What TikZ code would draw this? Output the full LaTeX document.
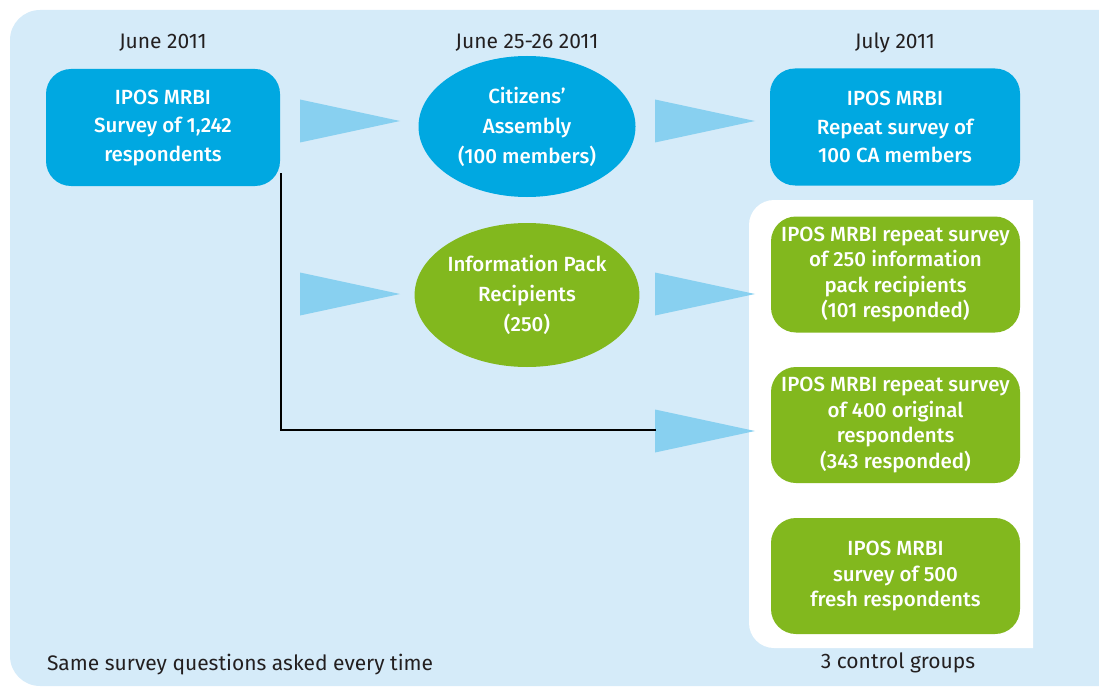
\documentclass[tikz,border=0pt]{standalone}
\usepackage{fontspec}
\setmainfont{Fira Sans}
\newfontfamily\boxfont{Fira Sans}[UprightFont=* Medium]
\usetikzlibrary{shapes.geometric}
\definecolor{bgblue}{HTML}{D5EBF9}
\definecolor{boxblue}{HTML}{00A8E1}
\definecolor{arrowblue}{HTML}{88D0F0}
\definecolor{boxgreen}{HTML}{82B81E}
\definecolor{headtext}{HTML}{231F20}
\tikzset{
  every node/.style={inner sep=0pt, outer sep=0pt},
  boxtext/.style={text=white, align=center, font=\boxfont\fontsize{20.5}{28.5}\selectfont},
  bluebox/.style={boxtext, fill=boxblue, rounded corners=25pt, minimum height=117pt},
  greenbox/.style={boxtext, fill=boxgreen, rounded corners=25pt, minimum width=249pt, minimum height=116pt, font=\boxfont\fontsize{20.5}{25.5}\selectfont},
  blueell/.style={boxtext, ellipse, fill=boxblue, minimum width=217pt, minimum height=141pt, font=\boxfont\fontsize{20.5}{30}\selectfont},
  greenell/.style={boxtext, ellipse, fill=boxgreen, minimum width=217pt, minimum height=144pt, font=\boxfont\fontsize{20.5}{30}\selectfont},
  heading/.style={text=headtext, font=\fontsize{21}{24}\selectfont},
  connector/.style={draw=black, line width=1.5pt},
  bigarrow/.pic={\fill[arrowblue] (0,-21.5) -- (100,0) -- (0,21.5) -- cycle;}
}
\begin{document}
\begin{tikzpicture}[x=1pt, y=-1pt]
\useasboundingbox (0,0) rectangle (1099,687);
% background panel
\fill[bgblue, rounded corners=30pt] (10,10) rectangle (1150,686);
% white control-group panel
\fill[white] (1033,200) -- (774,200) arc[start angle=270, end angle=180, radius=25]
  -- (749,623) arc[start angle=180, end angle=90, radius=25] -- (1033,648) -- cycle;

% headings
\node[heading] (h1) at (163,43) {June 2011};
\node[heading] (h2) at (527,43) {June 25-26 2011};
\node[heading] (h3) at (895,43) {July 2011};

% nodes
\node[bluebox, minimum width=234pt] (b1) at (163,127.5) {IPOS MRBI\\Survey of 1,242\\respondents};
\node[blueell] (e1) at (527,126.5) {Citizens’\\Assembly\\(100 members)};
\node[bluebox, minimum width=250pt] (b3) at (895,127) {IPOS MRBI\\Repeat survey of\\100 CA members};
\node[greenell] (e2) at (527,295) {Information Pack\\Recipients\\(250)};
\node[greenbox] (g1) at (895.5,274.5) {IPOS MRBI repeat survey\\of 250 information\\pack recipients\\(101 responded)};
\node[greenbox] (g2) at (895.5,425) {IPOS MRBI repeat survey\\of 400 original\\respondents\\(343 responded)};
\node[greenbox] (g3) at (895.5,576) {IPOS MRBI\\survey of 500\\fresh respondents};

% arrows
\pic at (300,121) {bigarrow};
\pic at (300,294) {bigarrow};
\pic at (655,121) {bigarrow};
\pic at (655,294) {bigarrow};
\pic at (655,431) {bigarrow};

% connector line
\coordinate (c2) at (656,430);
\draw[connector] ([xshift=1pt, yshift=-46pt]b1.east) |- (c2);

% bottom texts
\node[heading, anchor=west] (t1) at (47,665) {Same survey questions asked every time};
\node[heading] (t2) at (898,663) {3 control groups};
\end{tikzpicture}
\end{document}
